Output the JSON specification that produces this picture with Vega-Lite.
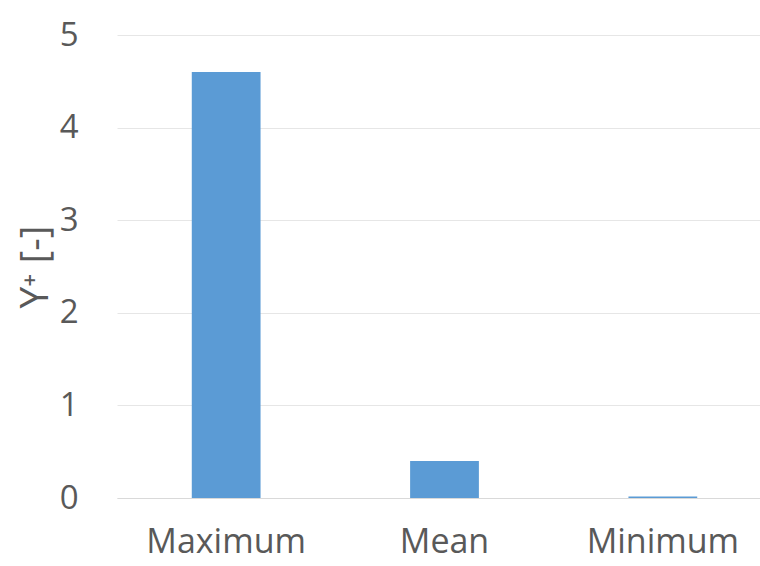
{
  "$schema": "https://vega.github.io/schema/vega-lite/v6.json",
  "width": 655,
  "height": 463,
  "autosize": {"type": "none"},
  "padding": {"left": 117, "top": 35, "right": 0, "bottom": 68},
  "background": "white",
  "config": {
    "view": {"stroke": null},
    "font": "Open Sans"
  },
  "data": {
    "values": [
      {"stat": "Maximum", "yplus": 4.6},
      {"stat": "Mean", "yplus": 0.4},
      {"stat": "Minimum", "yplus": 0.015}
    ]
  },
  "mark": {"type": "bar", "color": "#5b9bd5"},
  "encoding": {
    "x": {
      "field": "stat",
      "type": "nominal",
      "sort": null,
      "scale": {"paddingInner": 0.685, "paddingOuter": 0.3425},
      "axis": {
        "title": null,
        "labelAngle": 0,
        "labelFontSize": 34,
        "labelColor": "#595959",
        "labelPadding": 27,
        "ticks": false,
        "domain": true,
        "domainColor": "#d9d9d9",
        "domainWidth": 1
      }
    },
    "y": {
      "field": "yplus",
      "type": "quantitative",
      "scale": {"domain": [0, 5], "nice": false},
      "axis": {
        "title": "Y⁺ [-]",
        "titleFontSize": 39,
        "titleFontWeight": "normal",
        "titleColor": "#595959",
        "titlePadding": 4,
        "values": [0, 1, 2, 3, 4, 5],
        "labelFontSize": 33,
        "labelColor": "#595959",
        "labelPadding": 39,
        "ticks": false,
        "domain": false,
        "grid": true,
        "gridColor": "#e6e6e6",
        "gridWidth": 1
      }
    }
  }
}
